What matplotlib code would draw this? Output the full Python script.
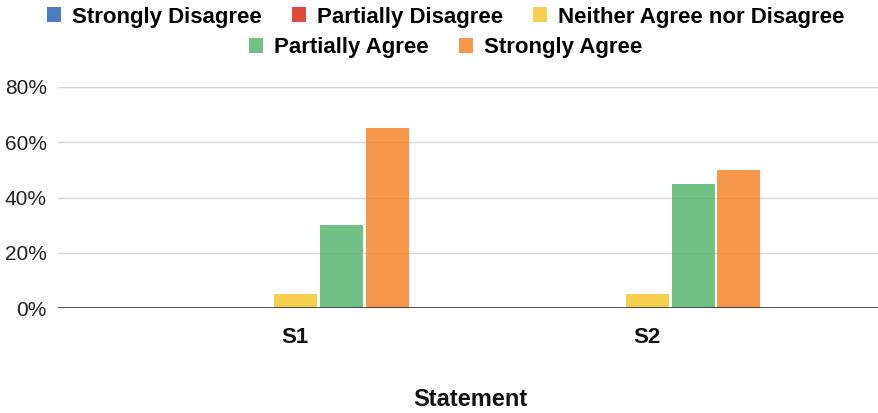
import matplotlib
matplotlib.use("Agg")
import matplotlib.pyplot as plt
from matplotlib.patches import Patch
import numpy as np

# Survey responses per statement (share of respondents)
statements = ["S1", "S2"]
responses = ["Strongly Disagree", "Partially Disagree",
             "Neither Agree nor Disagree", "Partially Agree", "Strongly Agree"]
strongly_disagree = [0.00, 0.00]
partially_disagree = [0.00, 0.00]
neither = [0.05, 0.05]
partially_agree = [0.30, 0.45]
strongly_agree = [0.65, 0.50]

series = [strongly_disagree, partially_disagree, neither,
          partially_agree, strongly_agree]
colors = ["#3064BA", "#DB2A1A", "#F6C730", "#58B770", "#F6852D"]
alpha = 0.85

plt.rcParams["font.family"] = ["Liberation Sans", "DejaVu Sans"]

fig = plt.figure(figsize=(8.79, 4.13), dpi=100)
ax = fig.add_axes([58/879, 105/413, 820/879, 221/413])

x = np.arange(len(statements))
width = 43/352
step = 46/352
for i, (vals, col) in enumerate(zip(series, colors)):
    ax.bar(x + (i - 2)*step, vals, width=width, color=col, alpha=alpha,
           zorder=2, linewidth=0)

ax.set_xlim((58 - 295)/352, (878 - 295)/352)
ax.set_ylim(0, 0.8)
ax.set_yticks([0, 0.2, 0.4, 0.6, 0.8])
ax.set_yticklabels(["0%", "20%", "40%", "60%", "80%"])
ax.set_xticks(x)
ax.set_xticklabels(statements, fontsize=16, fontweight="bold")
ax.yaxis.grid(True, color="#d6d6d6", linewidth=1, zorder=0)
ax.set_axisbelow(True)
ax.axhline(0, color="#333333", linewidth=1.2, zorder=3)

for s in ax.spines.values():
    s.set_visible(False)
ax.tick_params(axis="y", length=0, labelsize=15, labelcolor="#222222", pad=8)
ax.tick_params(axis="x", length=0, labelcolor="#111111", pad=14)

fig.text(0.535, 1 - 400/413, "Statement", ha="center", va="center",
         fontsize=17, fontweight="bold", color="#111111")

# legend in two centred rows
handles = [Patch(facecolor=c, alpha=alpha, linewidth=0) for c in colors]
leg_kw = dict(frameon=False, handlelength=0.62, handleheight=0.68,
              handletextpad=0.5, columnspacing=1.35, borderaxespad=0,
              borderpad=0, prop={"weight": "bold", "size": 16})
fig.legend(handles[:3], responses[:3], ncol=3, loc="center",
           bbox_to_anchor=(0.507, 1 - 17/413), **leg_kw)
fig.legend(handles[3:], responses[3:], ncol=2, loc="center",
           bbox_to_anchor=(0.507, 1 - 48/413), **leg_kw)

fig.savefig("out.png", dpi=100)
